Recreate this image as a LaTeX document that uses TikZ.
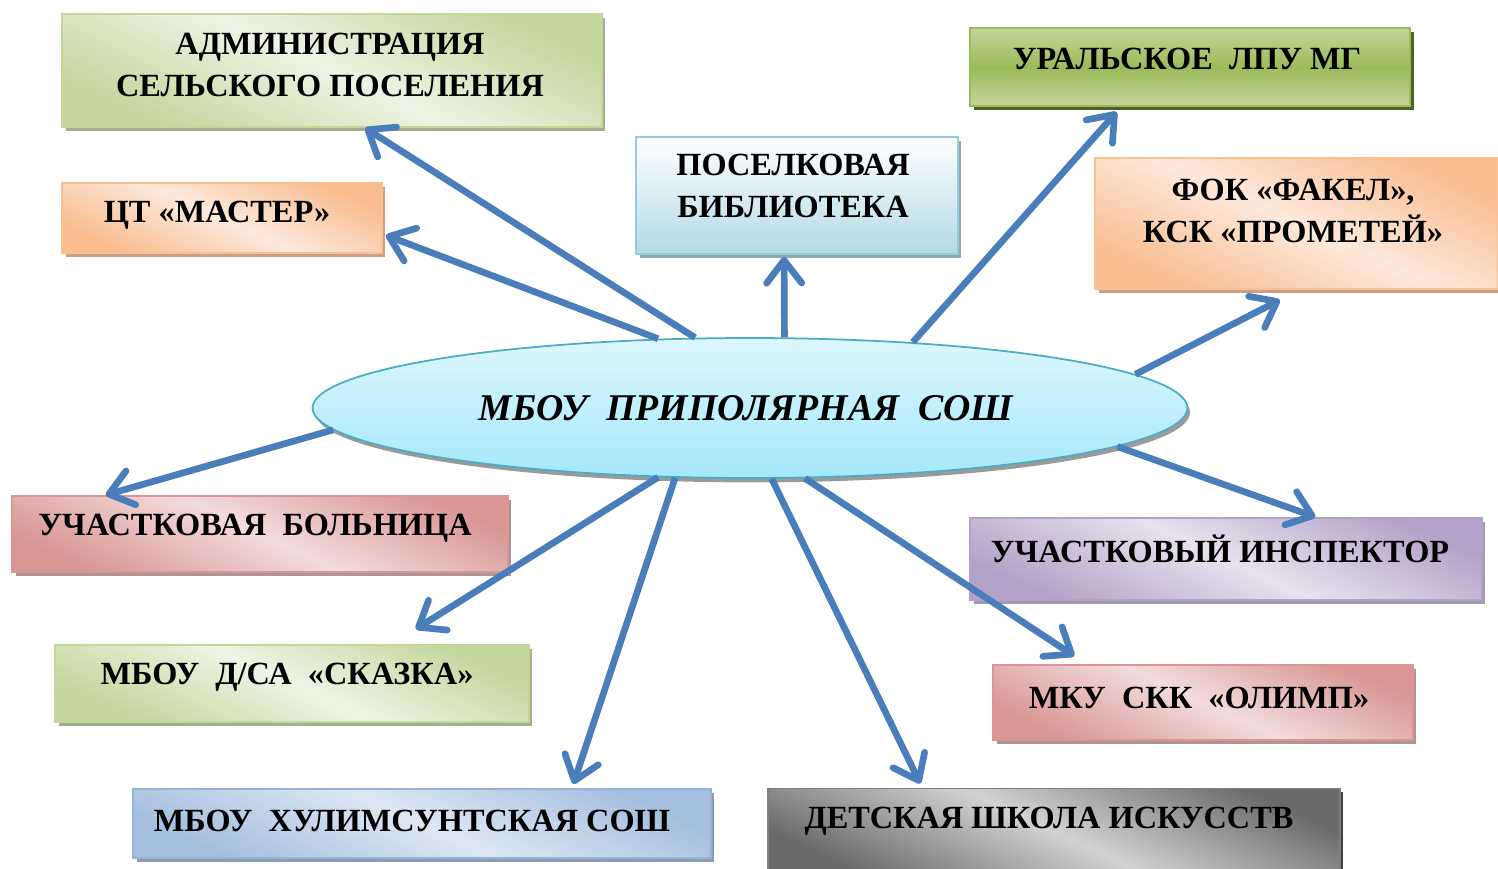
\documentclass[tikz,border=0pt]{standalone}
\usepackage{fontspec}
\setmainfont{Liberation Serif}
\usetikzlibrary{shapes.geometric,arrows.meta,calc,shadows}
\definecolor{grnL}{HTML}{EEF4E4}
\definecolor{grnD}{HTML}{C3D69B}
\definecolor{grnS}{HTML}{A3AE8C}
\definecolor{orgL}{HTML}{FDE9DC}
\definecolor{orgD}{HTML}{F9BC8E}
\definecolor{orgB}{HTML}{FAC090}
\definecolor{orgS}{HTML}{C6A088}
\definecolor{libL}{HTML}{FFFFFF}
\definecolor{libD}{HTML}{B2DAE6}
\definecolor{libB}{HTML}{93CDDD}
\definecolor{libS}{HTML}{8FA9B1}
\definecolor{uraL}{HTML}{C3D69B}
\definecolor{uraD}{HTML}{9BBB59}
\definecolor{uraB}{HTML}{9BBB59}
\definecolor{uraS}{HTML}{4F6228}
\definecolor{redL}{HTML}{F2DCDB}
\definecolor{redD}{HTML}{D99694}
\definecolor{redS}{HTML}{B09494}
\definecolor{purL}{HTML}{E7E2EE}
\definecolor{purD}{HTML}{B3A2C7}
\definecolor{purS}{HTML}{A39BAB}
\definecolor{bluL}{HTML}{DDE7F3}
\definecolor{bluD}{HTML}{A3BEDE}
\definecolor{bluB}{HTML}{95B3D7}
\definecolor{bluS}{HTML}{8C9BB0}
\definecolor{gryL}{HTML}{D2D2D2}
\definecolor{gryD}{HTML}{6A6A6A}
\definecolor{gryB}{HTML}{7F7F7F}
\definecolor{gryS}{HTML}{404040}
\definecolor{ellL}{HTML}{DDF7FD}
\definecolor{ellD}{HTML}{A5E8FB}
\definecolor{ellB}{HTML}{4BACC6}
\definecolor{ellS}{HTML}{9A9A9A}
\definecolor{arrblue}{HTML}{4A7EBB}
\tikzset{
  box/.style={rectangle, inner sep=0pt, line width=1.1pt},
  diag/.style n args={4}{box, draw=#3, top color=#2, bottom color=#2, middle color=#1, shading angle=-25,
     general shadow={fill=#4, shadow xshift=2pt, shadow yshift=-2pt}},
  vert/.style n args={4}{box, draw=#3, top color=#1, bottom color=#2,
     general shadow={fill=#4, shadow xshift=2pt, shadow yshift=-2pt}},
  vmid/.style n args={4}{box, draw=#3, top color=#1, bottom color=#1, middle color=#2,
     general shadow={fill=#4, shadow xshift=2.5pt, shadow yshift=-2.5pt}},
  txt/.style={font=\fontsize{18.4}{23.5}\selectfont\bfseries, align=center, inner sep=0pt},
  arr/.style={draw=arrblue, line width=3.8pt, -{Straight Barb[length=13pt, width=20pt, round]}}
}
\begin{document}
\begin{tikzpicture}[x=0.02cm, y=-0.02cm]
\useasboundingbox (0,0) rectangle (1498,869);
% boxes
\node[diag={grnL}{grnD}{grnD}{grnS}, minimum width=10.8cm, minimum height=2.26cm] (admin) at (332,70.5) {};
\node[txt] (admin-t) at (330,65) {АДМИНИСТРАЦИЯ\\СЕЛЬСКОГО ПОСЕЛЕНИЯ};
\node[diag={orgL}{orgD}{orgB}{orgS}, minimum width=6.4cm, minimum height=1.4cm] (ct) at (222,218) {};
\node[txt] (ct-t) at (217,215) {ЦТ «МАСТЕР»};
\node[vert={libL}{libD}{libB}{libS}, minimum width=6.44cm, minimum height=2.34cm] (lib) at (797,195.5) {};
\node[txt] (lib-t) at (793,186) {ПОСЕЛКОВАЯ\\БИБЛИОТЕКА};
\node[vmid={uraL}{uraD}{uraB}{uraS}, minimum width=8.8cm, minimum height=1.56cm] (ural) at (1190,67) {};
\node[txt] (ural-t) at (1187,59) {УРАЛЬСКОЕ~ ЛПУ МГ};
\node[diag={orgL}{orgD}{orgB}{orgS}, minimum width=8.06cm, minimum height=2.62cm] (fok) at (1296.5,223.5) {};
\node[txt] (fok-t) at (1293,211) {ФОК «ФАКЕЛ»,\\КСК «ПРОМЕТЕЙ»};
\node[diag={redL}{redD}{redD}{redS}, minimum width=9.92cm, minimum height=1.52cm] (bol) at (260,534) {};
\node[txt] (bol-t) at (255,528) {УЧАСТКОВАЯ~ БОЛЬНИЦА};
\node[diag={purL}{purD}{purD}{purS}, minimum width=10.24cm, minimum height=1.64cm] (insp) at (1226,559) {};
\node[txt] (insp-t) at (1220,549) {УЧАСТКОВЫЙ ИНСПЕКТОР};
\node[diag={grnL}{grnD}{grnD}{grnS}, minimum width=9.48cm, minimum height=1.54cm] (skaz) at (292,683.5) {};
\node[txt] (skaz-t) at (287,677) {МБОУ~ Д/СА~ «СКАЗКА»};
\node[diag={redL}{redD}{redD}{redS}, minimum width=8.4cm, minimum height=1.5cm] (olimp) at (1203,702.5) {};
\node[txt] (olimp-t) at (1199,698) {МКУ~ СКК~ «ОЛИМП»};
\node[diag={bluL}{bluD}{bluB}{bluS}, minimum width=11.56cm, minimum height=1.38cm] (hul) at (422,823.5) {};
\node[txt] (hul-t) at (412,821) {МБОУ~ ХУЛИМСУНТСКАЯ СОШ};
\node[diag={gryL}{gryD}{gryB}{gryS}, minimum width=11.44cm, minimum height=1.7cm] (dshi) at (1054,831) {};
\node[txt] (dshi-t) at (1049,821) {ДЕТСКАЯ ШКОЛА ИСКУССТВ};
% centre
\node[ellipse, inner sep=0pt, minimum width=17.5cm, minimum height=2.8cm, draw=ellB, line width=1pt,
      top color=ellL, bottom color=ellD,
      general shadow={fill=ellS, shadow xshift=1.5pt, shadow yshift=-2.5pt}] (ell) at (750,408) {};
\node[font=\fontsize{21.5}{25}\selectfont\bfseries\itshape, inner sep=0pt] (ell-t) at (746,408) {МБОУ~ ПРИПОЛЯРНАЯ~ СОШ};
% arrows
\draw[arr] (ell.128) -- ($(admin.south west)!0.561!(admin.south east)$);
\draw[arr] (ell.143.6) -- ($(ct.north east)!0.74!(ct.south east)+(3,0)$);
\draw[arr] (ell.64) -- ($(lib.south west)!0.46!(lib.south east)+(0,2)$);
\draw[arr] (ell.22) -- ($(ural.south west)!0.334!(ural.south east)+(0,5)$);
\draw[arr] (ell.5.6) -- ($(fok.south west)!0.459!(fok.south east)+(0,10)$);
\draw[arr] (ell.183.4) -- ($(bol.north west)!0.19!(bol.north east)$);
\draw[arr] (ell.354.3) -- ($(insp.north west)!0.674!(insp.north east)$);
\draw[arr] (ell.217.2) -- ($(skaz.north west)!0.76!(skaz.north east)+(0,-15)$);
\draw[arr] (ell.223.1) -- ($(hul.north west)!0.761!(hul.north east)+(0,-4)$);
\draw[arr] (ell.287) -- ($(dshi.north west)!0.267!(dshi.north east)+(0,-4)$);
\draw[arr] (ell.308.9) -- ($(olimp.north west)!0.195!(olimp.north east)+(0,-8)$);
\end{tikzpicture}
\end{document}
